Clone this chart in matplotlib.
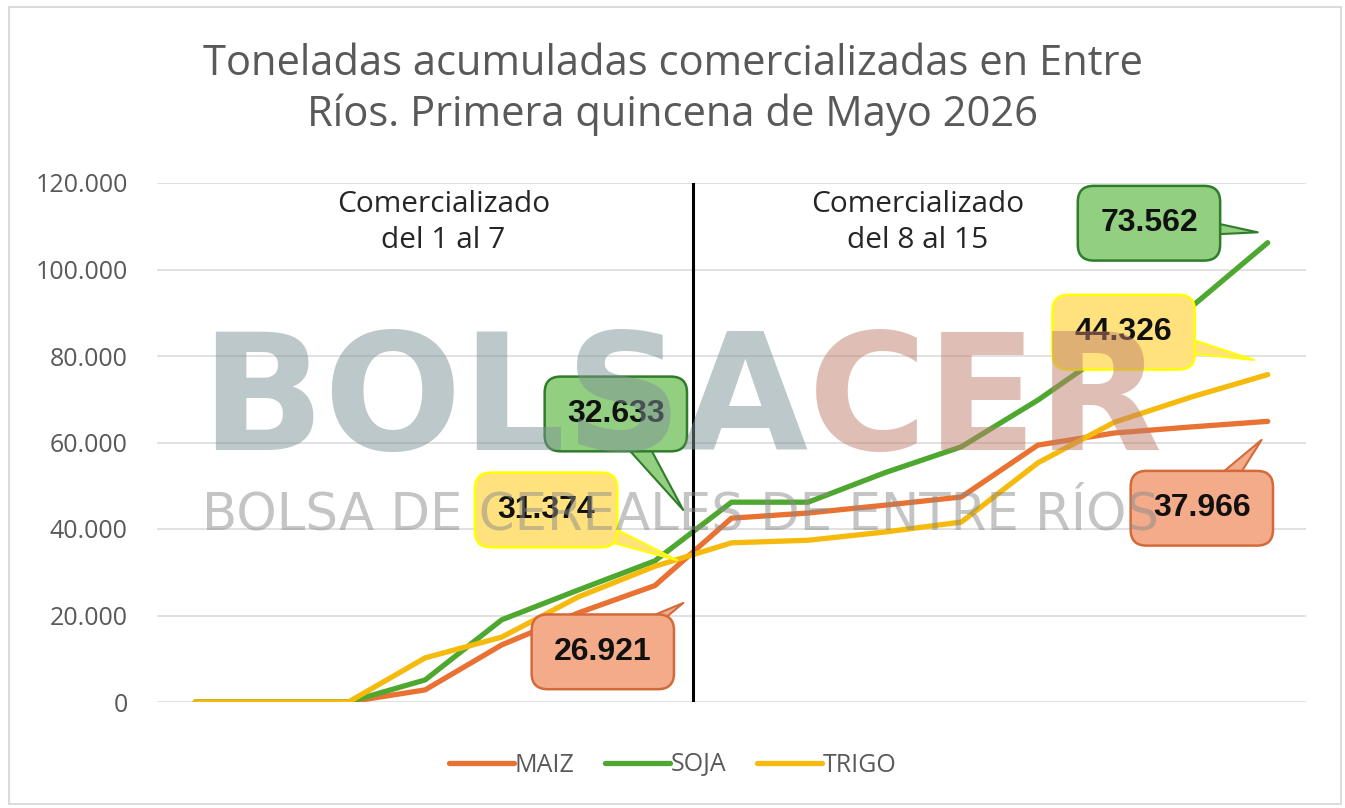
import matplotlib
matplotlib.use("Agg")
import matplotlib.pyplot as plt
from matplotlib.patches import Rectangle
from matplotlib.ticker import FuncFormatter

# data (cumulative tonnes, days 1..15)
dias = list(range(1, 16))
maiz = [0, 0, 0, 2800, 13200, 20600, 26921, 42500, 43700, 45500, 47400, 59400, 62200, 63600, 64887]
soja = [0, 0, 0, 5100, 19000, 25900, 32633, 46200, 46200, 53000, 59000, 69800, 82100, 91300, 106195]
trigo = [0, 0, 0, 10200, 15000, 24300, 31374, 36800, 37400, 39300, 41600, 55300, 64700, 70500, 75700]
series = ["MAIZ", "SOJA", "TRIGO"]
colores = ["#E97132", "#4EA72E", "#F5BA0B"]
y_ticks = [0, 20000, 40000, 60000, 80000, 100000, 120000]

plt.rcParams['font.family'] = ['Open Sans', 'DejaVu Sans']

def miles(v, pos=None):
    return f"{int(round(v)):,}".replace(",", ".")

W, H = 1345, 808
fig = plt.figure(figsize=(W / 100, H / 100), dpi=100)
fig.patch.set_facecolor("white")
fig.patches.append(Rectangle((9/W, 4/H), 1332/W, 797/H, transform=fig.transFigure,
                             fill=False, ec="#d4d4d4", lw=1.2))

ax = fig.add_axes([157/W, 106/H, 1149/W, 519/H])
for nombre, vals, c in zip(series, [maiz, soja, trigo], colores):
    ax.plot(dias, vals, color=c, lw=3.8, solid_capstyle="round", label=nombre, zorder=3)

ax.set_xlim(0.5, 15.5)
ax.set_ylim(0, 120000)
ax.set_yticks(y_ticks)
ax.yaxis.set_major_formatter(FuncFormatter(miles))
ax.set_xticks([])
ax.grid(axis="y", color="#d9d9d9", lw=1.1)
ax.set_axisbelow(True)
for s in ax.spines.values():
    s.set_visible(False)
ax.tick_params(axis="y", length=0, pad=21, labelsize=18, labelcolor="#595959")

# divider between the two weeks
ax.axvline(7.5, color="black", lw=2.2, zorder=4)
ax.text(4.24, 110900, "Comercializado\ndel 1 al 7", ha="center", va="center",
        fontsize=21.5, color="#262626", linespacing=1.3)
ax.text(10.43, 110900, "Comercializado\ndel 8 al 15", ha="center", va="center",
        fontsize=21.5, color="#262626", linespacing=1.3)

fig.text(0.5, 1 - 89.5/H, "Toneladas acumuladas comercializadas en Entre\nRíos. Primera quincena de Mayo 2026",
         ha="center", va="center", fontsize=30, color="#595959", linespacing=1.28)

# watermark
r = fig.canvas.get_renderer()
wm1 = fig.text(200/W, 1 - 450/H, "BOLSA", fontsize=117, fontweight="bold", color="#7d9296",
               family="DejaVu Sans", alpha=0.5, ha="left", va="baseline", zorder=10)
x_fin = wm1.get_window_extent(renderer=r).x1
fig.text(x_fin / W, 1 - 450/H, "CER", fontsize=117, fontweight="bold", color="#c0806c",
         family="DejaVu Sans", alpha=0.5, ha="left", va="baseline", zorder=10)
wm2 = fig.text(680/W, 1 - 530/H, "BOLSA DE CEREALES DE ENTRE RÍOS", fontsize=30, color="#8a8a8a",
               family="DejaVu Sans", alpha=0.5, ha="center", va="baseline", zorder=10)
wm2.set_fontsize(30 * 960 / wm2.get_window_extent(renderer=r).width)

# callouts: first-week totals and second-week increments
callouts = [
    (soja[6], (6.49, 66600), (7.37, 44400), "#93cf80", "#2f7d2a"),
    (trigo[6], (5.58, 44400), (7.29, 32800), "#ffe17e", "#ffff00"),
    (maiz[6], (6.32, 11600), (7.37, 22900), "#f4ab8a", "#d46a3a"),
    (soja[-1] - soja[6], (13.45, 110700), (14.87, 108600), "#93cf80", "#2f7d2a"),
    (trigo[-1] - trigo[6], (13.12, 85500), (14.82, 79100), "#ffe17e", "#ffff00"),
    (maiz[-1] - maiz[6], (14.14, 44800), (14.92, 60600), "#f4ab8a", "#d46a3a"),
]
for val, txt_pos, tip, fc, ec in callouts:
    ax.annotate(miles(val), xy=tip, xytext=txt_pos, ha="center", va="center",
                fontsize=23, fontweight="bold", color="#111111", family="Liberation Sans", zorder=6,
                bbox=dict(boxstyle="round,pad=0.7,rounding_size=0.5", fc=fc, ec=ec, lw=1.8),
                arrowprops=dict(arrowstyle="wedge,tail_width=0.9,shrink_factor=0.5",
                                fc=fc, ec=ec, lw=1.5, patchA=None, shrinkA=0, shrinkB=0))

leg = fig.legend(loc="center", bbox_to_anchor=(0.5, 1 - 765/H), ncol=3, frameon=False,
                 fontsize=18, handlelength=2.6, columnspacing=1.2, handletextpad=0.05)
for t in leg.get_texts():
    t.set_color("#595959")

fig.savefig("out.png", dpi=100, facecolor="white")
